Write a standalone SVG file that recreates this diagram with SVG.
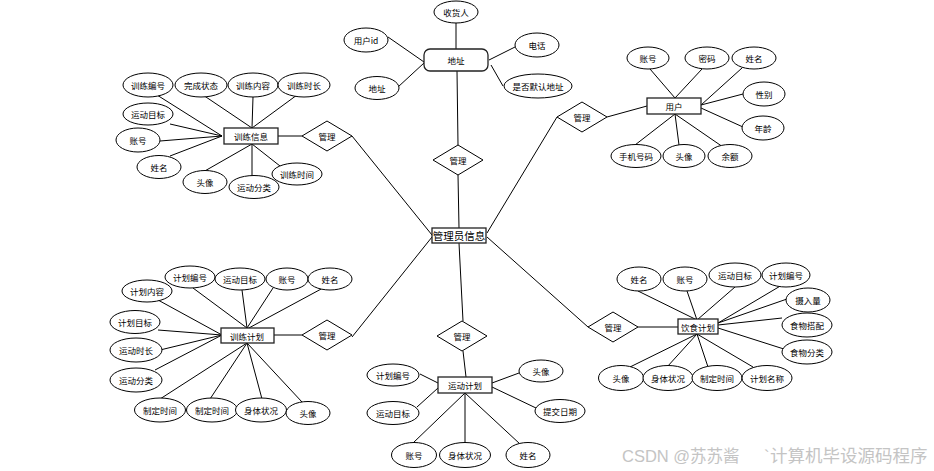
<svg xmlns="http://www.w3.org/2000/svg" width="934" height="471" viewBox="0 0 934 471">
<style>
.e{fill:#fff;stroke:#000;stroke-width:1}
.b{fill:#fff;stroke:#222;stroke-width:1.3}
.d{fill:#fff;stroke:#000;stroke-width:1}
.t{font-family:"Noto Sans CJK SC","Liberation Sans",sans-serif;font-size:8.5px;fill:#000;text-anchor:middle;dominant-baseline:central}
.c line{stroke:#000;stroke-width:1}
.w{font-family:"Liberation Sans","Noto Sans CJK SC",sans-serif;font-size:16.5px;fill:#c4c4c4}
</style>
<rect width="934" height="471" fill="#fff"/>
<g class="c" id="connectors">
<!-- central -->
<line x1="458" y1="175" x2="459" y2="228"/>
<line x1="352" y1="136" x2="432" y2="235"/>
<line x1="557" y1="117" x2="487" y2="233"/>
<line x1="352" y1="337" x2="432" y2="237"/>
<line x1="459" y1="243" x2="463" y2="321"/>
<line x1="487" y1="237" x2="588" y2="327"/>
<!-- address -->
<line x1="458" y1="145" x2="457" y2="71"/>
<line x1="456" y1="23" x2="456" y2="49"/>
<line x1="388" y1="37" x2="424" y2="62"/>
<line x1="398" y1="87" x2="424" y2="63"/>
<line x1="515" y1="47" x2="489" y2="60"/>
<line x1="503" y1="86" x2="491" y2="65"/>
<!-- training info -->
<line x1="278" y1="136" x2="302" y2="136"/>
<line x1="157" y1="95" x2="222" y2="136"/>
<line x1="203" y1="95" x2="252" y2="128"/>
<line x1="253" y1="97" x2="252" y2="128"/>
<line x1="297" y1="95" x2="252" y2="128"/>
<line x1="170" y1="124" x2="222" y2="136"/>
<line x1="160" y1="141" x2="222" y2="136"/>
<line x1="170" y1="156" x2="222" y2="136"/>
<line x1="203" y1="172" x2="252" y2="144"/>
<line x1="252" y1="176" x2="252" y2="144"/>
<line x1="280" y1="166" x2="252" y2="144"/>
<!-- user -->
<line x1="607" y1="117" x2="647" y2="106"/>
<line x1="650" y1="69" x2="675" y2="98"/>
<line x1="702" y1="69" x2="675" y2="98"/>
<line x1="742" y1="68" x2="701" y2="105"/>
<line x1="743" y1="94" x2="701" y2="105"/>
<line x1="743" y1="127" x2="701" y2="108"/>
<line x1="635" y1="145" x2="675" y2="114"/>
<line x1="679" y1="145" x2="675" y2="114"/>
<line x1="723" y1="147" x2="675" y2="114"/>
<!-- training plan -->
<line x1="274" y1="335" x2="302" y2="335"/>
<line x1="158" y1="300" x2="222" y2="335"/>
<line x1="193" y1="288" x2="247" y2="328"/>
<line x1="242" y1="290" x2="247" y2="328"/>
<line x1="273" y1="288" x2="247" y2="328"/>
<line x1="323" y1="288" x2="247" y2="329"/>
<line x1="158" y1="330" x2="222" y2="335"/>
<line x1="160" y1="350" x2="222" y2="335"/>
<line x1="155" y1="370" x2="222" y2="335"/>
<line x1="160" y1="399" x2="247" y2="343"/>
<line x1="210" y1="399" x2="247" y2="343"/>
<line x1="262" y1="399" x2="247" y2="343"/>
<line x1="302" y1="402" x2="247" y2="343"/>
<!-- sport plan -->
<line x1="463" y1="351" x2="466" y2="377"/>
<line x1="420" y1="374" x2="438" y2="383"/>
<line x1="417" y1="407" x2="438" y2="388"/>
<line x1="519" y1="373" x2="492" y2="383"/>
<line x1="536" y1="408" x2="492" y2="387"/>
<line x1="413" y1="443" x2="465" y2="393"/>
<line x1="465" y1="443" x2="465" y2="393"/>
<line x1="520" y1="444" x2="465" y2="393"/>
<!-- diet plan -->
<line x1="638" y1="327" x2="678" y2="327"/>
<line x1="638" y1="291" x2="697" y2="320"/>
<line x1="687" y1="291" x2="697" y2="320"/>
<line x1="735" y1="287" x2="697" y2="320"/>
<line x1="782" y1="285" x2="718" y2="323"/>
<line x1="787" y1="299" x2="718" y2="323"/>
<line x1="782" y1="318" x2="718" y2="325"/>
<line x1="787" y1="350" x2="718" y2="328"/>
<line x1="630" y1="367" x2="697" y2="334"/>
<line x1="667" y1="367" x2="697" y2="334"/>
<line x1="708" y1="367" x2="697" y2="334"/>
<line x1="753" y1="367" x2="697" y2="334"/>
</g>

<g id="admin"><rect class="b" x="432" y="228" width="54" height="15"/><text class="t" x="459" y="235.5" style="font-size:10.5px">管理员信息</text></g>

<g id="rel-address"><polygon class="d" points="433,160 458,145 483,160 458,175"/><text class="t" x="458" y="160">管理</text></g>
<g id="rel-traininfo"><polygon class="d" points="302,136 327,121 352,136 327,151"/><text class="t" x="327" y="136">管理</text></g>
<g id="rel-user"><polygon class="d" points="557,117 582,102 607,117 582,132"/><text class="t" x="582" y="117">管理</text></g>
<g id="rel-trainplan"><polygon class="d" points="302,335 327,320 352,335 327,350"/><text class="t" x="327" y="335">管理</text></g>
<g id="rel-sportplan"><polygon class="d" points="437,336 462,321 487,336 462,351"/><text class="t" x="462" y="336">管理</text></g>
<g id="rel-diet"><polygon class="d" points="588,327 613,312 638,327 613,342"/><text class="t" x="613" y="327">管理</text></g>

<!-- address -->
<g id="address"><rect class="b" x="424" y="49" width="64" height="22" rx="6"/><text class="t" x="456" y="60">地址</text></g>
<g id="addr-receiver"><ellipse class="e" cx="456" cy="12" rx="22" ry="11"/><text class="t" x="456" y="12">收货人</text></g>
<g id="addr-uid"><ellipse class="e" cx="366" cy="40" rx="22" ry="12"/><text class="t" x="366" y="40">用户id</text></g>
<g id="addr-addr"><ellipse class="e" cx="377" cy="88" rx="22" ry="11.5"/><text class="t" x="377" y="88">地址</text></g>
<g id="addr-phone"><ellipse class="e" cx="537" cy="45" rx="22" ry="12"/><text class="t" x="537" y="45">电话</text></g>
<g id="addr-default"><ellipse class="e" cx="538" cy="86" rx="34" ry="12"/><text class="t" x="538" y="86">是否默认地址</text></g>

<!-- training info -->
<g id="traininfo"><rect class="b" x="224" y="128" width="54" height="16"/><text class="t" x="251" y="136">训练信息</text></g>
<g id="ti-1"><ellipse class="e" cx="148" cy="85" rx="25" ry="12"/><text class="t" x="148" y="85">训练编号</text></g>
<g id="ti-2"><ellipse class="e" cx="201" cy="85" rx="26" ry="12"/><text class="t" x="201" y="85">完成状态</text></g>
<g id="ti-3"><ellipse class="e" cx="253" cy="85" rx="25" ry="12"/><text class="t" x="253" y="85">训练内容</text></g>
<g id="ti-4"><ellipse class="e" cx="304" cy="85" rx="26" ry="12"/><text class="t" x="304" y="85">训练时长</text></g>
<g id="ti-5"><ellipse class="e" cx="148" cy="114" rx="25" ry="11"/><text class="t" x="148" y="114">运动目标</text></g>
<g id="ti-6"><ellipse class="e" cx="138" cy="140" rx="22" ry="12"/><text class="t" x="138" y="140">账号</text></g>
<g id="ti-7"><ellipse class="e" cx="159" cy="167" rx="22" ry="11.5"/><text class="t" x="159" y="167">姓名</text></g>
<g id="ti-8"><ellipse class="e" cx="205" cy="182" rx="22" ry="11.5"/><text class="t" x="205" y="182">头像</text></g>
<g id="ti-10"><ellipse class="e" cx="297" cy="174" rx="25" ry="11"/><text class="t" x="297" y="174">训练时间</text></g>
<g id="ti-9"><ellipse class="e" cx="254" cy="187" rx="25" ry="11.5"/><text class="t" x="254" y="187">运动分类</text></g>

<!-- user -->
<g id="user"><rect class="b" x="647" y="98" width="54" height="16"/><text class="t" x="674" y="106">用户</text></g>
<g id="u-1"><ellipse class="e" cx="648" cy="58" rx="21" ry="11"/><text class="t" x="648" y="58">账号</text></g>
<g id="u-2"><ellipse class="e" cx="707" cy="58" rx="22" ry="11"/><text class="t" x="707" y="58">密码</text></g>
<g id="u-3"><ellipse class="e" cx="754" cy="58" rx="22" ry="11"/><text class="t" x="754" y="58">姓名</text></g>
<g id="u-4"><ellipse class="e" cx="764" cy="94" rx="21" ry="12"/><text class="t" x="764" y="94">性别</text></g>
<g id="u-5"><ellipse class="e" cx="763" cy="128" rx="21" ry="12"/><text class="t" x="763" y="128">年龄</text></g>
<g id="u-6"><ellipse class="e" cx="636" cy="156" rx="25" ry="11.5"/><text class="t" x="636" y="156">手机号码</text></g>
<g id="u-7"><ellipse class="e" cx="684" cy="156" rx="21" ry="11.5"/><text class="t" x="684" y="156">头像</text></g>
<g id="u-8"><ellipse class="e" cx="730" cy="156" rx="22" ry="11.5"/><text class="t" x="730" y="156">余额</text></g>

<!-- training plan -->
<g id="trainplan"><rect class="b" x="221" y="328" width="53" height="15"/><text class="t" x="247" y="335.5">训练计划</text></g>
<g id="tp-1"><ellipse class="e" cx="147" cy="291" rx="25" ry="11"/><text class="t" x="147" y="291">计划内容</text></g>
<g id="tp-2"><ellipse class="e" cx="190" cy="277" rx="25" ry="11"/><text class="t" x="190" y="277">计划编号</text></g>
<g id="tp-3"><ellipse class="e" cx="240" cy="279" rx="25" ry="11"/><text class="t" x="240" y="279">运动目标</text></g>
<g id="tp-4"><ellipse class="e" cx="287" cy="279" rx="21" ry="11"/><text class="t" x="287" y="279">账号</text></g>
<g id="tp-5"><ellipse class="e" cx="330" cy="279" rx="22" ry="11"/><text class="t" x="330" y="279">姓名</text></g>
<g id="tp-6"><ellipse class="e" cx="135" cy="322" rx="25" ry="11.5"/><text class="t" x="135" y="322">计划目标</text></g>
<g id="tp-7"><ellipse class="e" cx="136" cy="350" rx="26" ry="12"/><text class="t" x="136" y="350">运动时长</text></g>
<g id="tp-8"><ellipse class="e" cx="136" cy="380" rx="26" ry="12"/><text class="t" x="136" y="380">运动分类</text></g>
<g id="tp-9"><ellipse class="e" cx="160" cy="410" rx="25.5" ry="12"/><text class="t" x="160" y="410">制定时间</text></g>
<g id="tp-10"><ellipse class="e" cx="212" cy="410" rx="25.5" ry="12"/><text class="t" x="212" y="410">制定时间</text></g>
<g id="tp-11"><ellipse class="e" cx="261" cy="410" rx="25.5" ry="12"/><text class="t" x="261" y="410">身体状况</text></g>
<g id="tp-12"><ellipse class="e" cx="308" cy="413" rx="22" ry="11.5"/><text class="t" x="308" y="413">头像</text></g>

<!-- sport plan -->
<g id="sportplan"><rect class="b" x="438" y="377" width="54" height="16"/><text class="t" x="465" y="385">运动计划</text></g>
<g id="sp-1"><ellipse class="e" cx="393" cy="375" rx="26" ry="11"/><text class="t" x="393" y="375">计划编号</text></g>
<g id="sp-2"><ellipse class="e" cx="393" cy="413" rx="26" ry="11.5"/><text class="t" x="393" y="413">运动目标</text></g>
<g id="sp-3"><ellipse class="e" cx="541" cy="371" rx="22" ry="11"/><text class="t" x="541" y="371">头像</text></g>
<g id="sp-4"><ellipse class="e" cx="560" cy="411" rx="25" ry="11.5"/><text class="t" x="560" y="411">提交日期</text></g>
<g id="sp-5"><ellipse class="e" cx="414" cy="455" rx="22.5" ry="12.5"/><text class="t" x="414" y="455">账号</text></g>
<g id="sp-6"><ellipse class="e" cx="465" cy="455" rx="25.5" ry="12.5"/><text class="t" x="465" y="455">身体状况</text></g>
<g id="sp-7"><ellipse class="e" cx="528" cy="455" rx="22" ry="12.5"/><text class="t" x="528" y="455">姓名</text></g>

<!-- diet plan -->
<g id="dietplan"><rect class="b" x="678" y="319" width="40" height="15"/><text class="t" x="698" y="326.5">饮食计划</text></g>
<g id="dp-1"><ellipse class="e" cx="639" cy="279" rx="22" ry="12"/><text class="t" x="639" y="279">姓名</text></g>
<g id="dp-2"><ellipse class="e" cx="685" cy="279" rx="22" ry="12"/><text class="t" x="685" y="279">账号</text></g>
<g id="dp-3"><ellipse class="e" cx="735" cy="275" rx="26" ry="12"/><text class="t" x="735" y="275">运动目标</text></g>
<g id="dp-4"><ellipse class="e" cx="786" cy="275" rx="24" ry="12"/><text class="t" x="786" y="275">计划编号</text></g>
<g id="dp-5"><ellipse class="e" cx="808" cy="300" rx="22" ry="12"/><text class="t" x="808" y="300">摄入量</text></g>
<g id="dp-6"><ellipse class="e" cx="807" cy="325" rx="25" ry="12"/><text class="t" x="807" y="325">食物搭配</text></g>
<g id="dp-7"><ellipse class="e" cx="807" cy="352" rx="25" ry="12"/><text class="t" x="807" y="352">食物分类</text></g>
<g id="dp-8"><ellipse class="e" cx="621" cy="378" rx="22.5" ry="12.5"/><text class="t" x="621" y="378">头像</text></g>
<g id="dp-9"><ellipse class="e" cx="668" cy="378" rx="25" ry="12.5"/><text class="t" x="668" y="378">身体状况</text></g>
<g id="dp-10"><ellipse class="e" cx="717" cy="378" rx="25" ry="12.5"/><text class="t" x="717" y="378">制定时间</text></g>
<g id="dp-11"><ellipse class="e" cx="767" cy="378" rx="25" ry="12.5"/><text class="t" x="767" y="378">计划名称</text></g>

<g id="watermark">
<text class="w" x="622" y="462">CSDN @苏苏酱</text>
<text class="w" x="764" y="462">`</text>
<text class="w" x="770" y="462" style="font-size:17.5px">计算机毕设源码程序</text>
</g>
</svg>
